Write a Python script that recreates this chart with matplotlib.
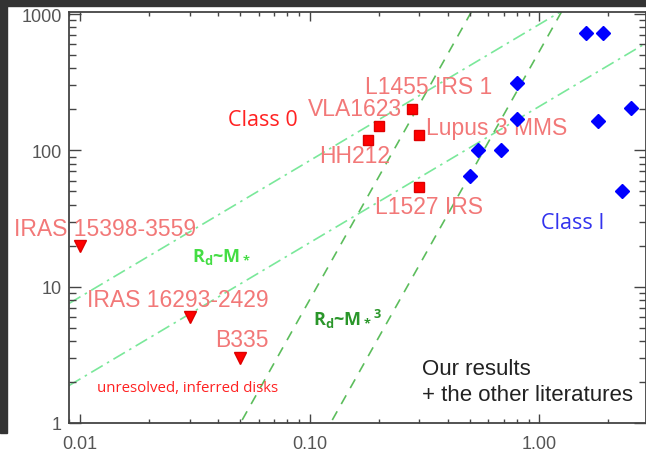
import matplotlib
matplotlib.use('Agg')
import matplotlib.pyplot as plt
import numpy as np
from matplotlib.patches import Rectangle
from matplotlib.ticker import LogLocator, FuncFormatter, NullFormatter

# Class 0 sources (resolved disks), red squares
class0_names = ['L1455 IRS 1', 'VLA1623', 'HH212', 'Lupus 3 MMS', 'L1527 IRS']
class0_mass = [0.28, 0.20, 0.18, 0.30, 0.30]
class0_radius = [200, 150, 120, 130, 54]

# unresolved, inferred disks, red down-triangles
unres_names = ['IRAS 15398-3559', 'IRAS 16293-2429', 'B335']
unres_mass = [0.01, 0.03, 0.05]
unres_radius = [20, 6, 3]

# Class I sources, blue diamonds
class1_mass = [1.6, 1.9, 0.80, 0.80, 2.5, 1.8, 0.54, 0.68, 0.50, 2.3]
class1_radius = [730, 730, 310, 170, 205, 163, 100, 100, 65, 50]

# relations R_d ~ M (dash-dot) and R_d ~ M^3 (dashed): coefficients
lin_coeffs = [840, 210]
cube_coeffs = [8000, 532]

XMIN, XMAX = 0.00896, 2.9
YMIN, YMAX = 1.0, 1035

W, H = 646, 452
fig = plt.figure(figsize=(W / 100, H / 100), dpi=100)
fig.patch.set_facecolor('white')
# dark screenshot frame (left + top)
fig.patches.append(Rectangle((0, 18 / H), 7 / W, 1, transform=fig.transFigure,
                             color='#333333', zorder=0))
fig.patches.append(Rectangle((0, 1 - 7 / H), 1, 7 / H, transform=fig.transFigure,
                             color='#333333', zorder=0))

ax = fig.add_axes([69 / W, 28 / H, (645.5 - 69) / W, (439 - 28) / H])
ax.set_xscale('log')
ax.set_yscale('log')
ax.set_xlim(XMIN, XMAX)
ax.set_ylim(YMIN, YMAX)

mm = np.array([XMIN, XMAX])
for c in lin_coeffs:
  ax.plot(mm, c * mm, color='#7ae89a', lw=1.2, dashes=(8, 3, 1.5, 3), zorder=1)
mm3 = np.logspace(np.log10(XMIN), np.log10(XMAX), 50)
for c in cube_coeffs:
  ax.plot(mm3, c * mm3 ** 3, color='#5cbd5c', lw=1.2, dashes=(6, 5), zorder=1)

ax.plot(class0_mass, class0_radius, 's', color='#ff0000', ms=7.5, mec='#dd0000',
        zorder=3, clip_on=False)
ax.plot(unres_mass, unres_radius, 'v', color='#ff0000', ms=8, mec='#dd0000',
        zorder=3, clip_on=False)
ax.plot(class1_mass, class1_radius, 'D', color='#0000ff', ms=7, mec='#0000ff',
        zorder=3, clip_on=False)

lab_font = dict(family='Liberation Sans', fontsize=16.5, color='#f27878',
                ha='left', va='center', zorder=2)
class0_pos = [(0.1734, 294), (0.0983, 204), (0.1105, 91), (0.3217, 147),
              (0.1917, 39)]
for name, (tx, ty) in zip(class0_names, class0_pos):
  ax.text(tx, ty, name, **lab_font)
unres_pos = [(0.00516, 26.6), (0.0107, 8.12), (0.0386, 4.08)]
for name, (tx, ty) in zip(unres_names, unres_pos):
  ax.text(tx, ty, name, **lab_font)

ax.text(0.0441, 169, 'Class 0', family='Open Sans', fontsize=15.5,
        color='#ff2222', ha='left', va='center')
ax.text(1.017, 29.4, 'Class I', family='Open Sans', fontsize=15.5,
        color='#3333ee', ha='left', va='center')
ax.text(0.01182, 1.83, 'unresolved, inferred disks', family='Open Sans',
        fontsize=10.8, color='#ff2020', ha='left', va='center')

plt.rcParams['mathtext.default'] = 'regular'
ax.text(0.0306, 16.7, r'R$_d$~M$_*$', family='Open Sans', fontsize=13,
        fontweight='bold', color='#44dd44', ha='left', va='center')
ax.text(0.103, 5.89, r'R$_d$~M$_*$$^3$', family='Open Sans', fontsize=13,
        fontweight='bold', color='#2a962a', ha='left', va='center')

ax.text(0.309, 2.53, 'Our results', family='Liberation Sans', fontsize=16,
        color='#222222', ha='left', va='center')
ax.text(0.309, 1.626, '+ the other literatures', family='Liberation Sans',
        fontsize=16, color='#222222', ha='left', va='center')

# axes styling (IDL-like inward ticks on all sides)
for s in ax.spines.values():
  s.set_color('#444444')
  s.set_linewidth(1.3)
ax.xaxis.set_major_locator(LogLocator(base=10, numticks=10))
ax.xaxis.set_minor_locator(LogLocator(base=10, subs=np.arange(2, 10), numticks=10))
ax.yaxis.set_major_locator(LogLocator(base=10, numticks=10))
ax.yaxis.set_minor_locator(LogLocator(base=10, subs=np.arange(2, 10), numticks=10))
ax.xaxis.set_major_formatter(FuncFormatter(lambda v, p: f'{v:.2f}'))
ax.yaxis.set_major_formatter(FuncFormatter(lambda v, p: f'{v:g}'))
ax.xaxis.set_minor_formatter(NullFormatter())
ax.yaxis.set_minor_formatter(NullFormatter())
ax.tick_params(axis='both', which='both', direction='in', top=True, right=True,
               color='#444444', width=1.0)
ax.tick_params(axis='x', which='major', length=6.5, pad=9)
ax.tick_params(axis='x', which='minor', length=3)
ax.tick_params(axis='y', which='major', length=8.6, pad=5)
ax.tick_params(axis='y', which='minor', length=5)
for lab in ax.get_xticklabels() + ax.get_yticklabels():
  lab.set_family('Liberation Sans')
  lab.set_fontsize(13)
  lab.set_color('#555555')

fig.savefig('out.png', dpi=100)
